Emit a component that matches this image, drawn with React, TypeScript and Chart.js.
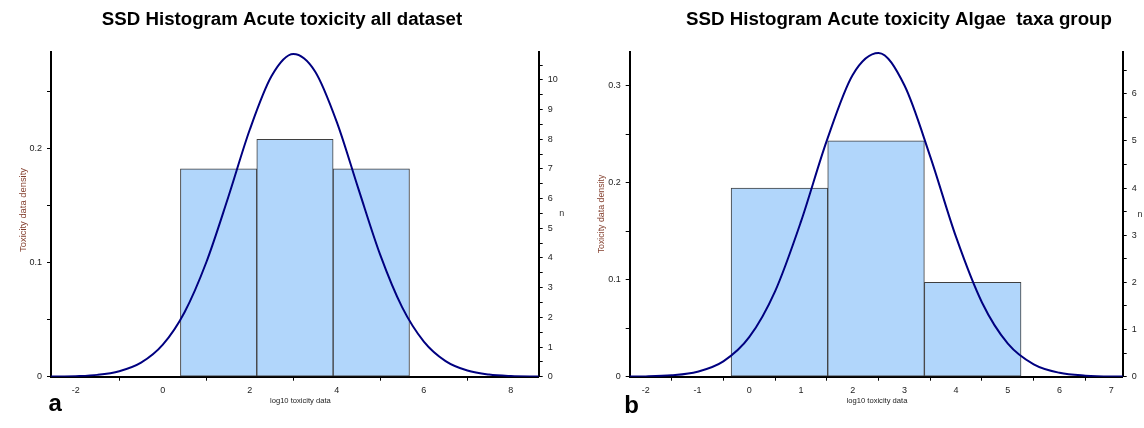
import React, { useEffect, useRef } from 'react';
import { Chart, registerables } from 'chart.js';

Chart.register(...registerables);

// ---------------- Panel a: all dataset ----------------
const aTitle = 'SSD Histogram Acute toxicity all dataset';
const aBinEdges = [0.405, 2.16, 3.915, 5.67];
const aCounts = [7, 8, 7];
const aCurveX = [-2.6, -2.5, -2, -1.5, -1, -0.5, 0, 0.5, 1, 1.5, 2, 2.5, 3, 3.5, 4, 4.5, 5, 5.5, 6, 6.5, 7, 7.5, 8, 8.5, 8.7];
const aCurveY = [0.0001, 0.0001, 0.0005, 0.0016, 0.0048, 0.0123, 0.0281, 0.0566, 0.1004, 0.157, 0.2168, 0.2637, 0.283, 0.2677, 0.2233, 0.1643, 0.1066, 0.061, 0.0308, 0.0137, 0.0054, 0.0019, 0.0006, 0.00015, 0.0001];
const aXRange = [-2.57, 8.64];
const aXTicks = [-2, -1, 0, 1, 2, 3, 4, 5, 6, 7, 8];
const aXLabels = ['-2', '', '0', '', '2', '', '4', '', '6', '', '8'];
const aDensityMax = 0.2848;
const aDensityTicks = [0, 0.05, 0.1, 0.15, 0.2, 0.25];
const aDensityLabels = ['0', '', '0.1', '', '0.2', ''];
const aCountMax = 10.94;
const aCountTicks = [0, 0.5, 1, 1.5, 2, 2.5, 3, 3.5, 4, 4.5, 5, 5.5, 6, 6.5, 7, 7.5, 8, 8.5, 9, 9.5, 10, 10.5];
const aCountLabels = ['0', '', '1', '', '2', '', '3', '', '4', '', '5', '', '6', '', '7', '', '8', '', '9', '', '10', ''];

// ---------------- Panel b: Algae taxa group ----------------
const bTitle = 'SSD Histogram Acute toxicity Algae  taxa group';
const bBinEdges = [-0.35, 1.518, 3.386, 5.255];
const bCounts = [4, 5, 2];
const bCurveX = [-2.5, -2, -1.5, -1, -0.5, 0, 0.5, 1, 1.5, 2, 2.5, 3, 3.5, 4, 4.5, 5, 5.5, 6, 6.5, 7, 7.5];
const bCurveY = [0.0001, 0.0003, 0.0014, 0.0051, 0.0158, 0.0407, 0.088, 0.1598, 0.2434, 0.3111, 0.3337, 0.3004, 0.2269, 0.1438, 0.0765, 0.0341, 0.0128, 0.004, 0.0011, 0.0002, 0.0001];
const bXRange = [-2.31, 7.22];
const bXTicks = [-2, -1.5, -1, -0.5, 0, 0.5, 1, 1.5, 2, 2.5, 3, 3.5, 4, 4.5, 5, 5.5, 6, 6.5, 7];
const bXLabels = ['-2', '', '-1', '', '0', '', '1', '', '2', '', '3', '', '4', '', '5', '', '6', '', '7'];
const bDensityMax = 0.335;
const bDensityTicks = [0, 0.05, 0.1, 0.15, 0.2, 0.25, 0.3];
const bDensityLabels = ['0', '', '0.1', '', '0.2', '', '0.3'];
const bCountMax = 6.89;
const bCountTicks = [0, 0.5, 1, 1.5, 2, 2.5, 3, 3.5, 4, 4.5, 5, 5.5, 6, 6.5];
const bCountLabels = ['0', '', '1', '', '2', '', '3', '', '4', '', '5', '', '6', ''];

const yTitleText = 'Toxicity data density';
const xTitleText = 'log10 toxicity data';
const nTitleText = 'n';

const FONT = '"Liberation Sans", Arial, sans-serif';

type TextItem = {
  text: string; x: number; y: number; font: string; color: string;
  align: CanvasTextAlign; baseline: CanvasTextBaseline; rotate?: number;
};

type PanelDef = {
  edges: number[]; counts: number[]; curveX: number[]; curveY: number[];
  xRange: number[]; xTicks: number[]; xLabels: string[];
  densityMax: number; densityTicks: number[]; densityLabels: string[];
  countMax: number; countTicks: number[]; countLabels: string[];
  padding: { left: number; right: number; top: number; bottom: number };
  leftW: number; rightW: number; texts: TextItem[];
};

const panelA: PanelDef = {
  edges: aBinEdges, counts: aCounts, curveX: aCurveX, curveY: aCurveY,
  xRange: aXRange, xTicks: aXTicks, xLabels: aXLabels,
  densityMax: aDensityMax, densityTicks: aDensityTicks, densityLabels: aDensityLabels,
  countMax: aCountMax, countTicks: aCountTicks, countLabels: aCountLabels,
  padding: { left: 11, right: 8.3, top: 52, bottom: 31.3 },
  leftW: 40, rightW: 25,
  texts: [
    { text: aTitle, x: 282, y: 24.5, font: `bold 18.7px ${FONT}`, color: '#000', align: 'center', baseline: 'alphabetic' },
    { text: 'a', x: 48.5, y: 410.7, font: `bold 24px ${FONT}`, color: '#000', align: 'left', baseline: 'alphabetic' },
    { text: yTitleText, x: 23.3, y: 210, font: `9.4px ${FONT}`, color: '#84402f', align: 'center', baseline: 'middle', rotate: -Math.PI / 2 },
    { text: nTitleText, x: 561.7, y: 214, font: `9px ${FONT}`, color: '#333', align: 'center', baseline: 'middle' },
    { text: xTitleText, x: 300.4, y: 400.7, font: `7.6px ${FONT}`, color: '#222', align: 'center', baseline: 'middle' },
  ],
};

const panelB: PanelDef = {
  edges: bBinEdges, counts: bCounts, curveX: bCurveX, curveY: bCurveY,
  xRange: bXRange, xTicks: bXTicks, xLabels: bXLabels,
  densityMax: bDensityMax, densityTicks: bDensityTicks, densityLabels: bDensityLabels,
  countMax: bCountMax, countTicks: bCountTicks, countLabels: bCountLabels,
  padding: { left: 17.7, right: 1.3, top: 51.7, bottom: 31.3 },
  leftW: 40, rightW: 20,
  texts: [
    { text: bTitle, x: 327, y: 24.5, font: `bold 18.7px ${FONT}`, color: '#000', align: 'center', baseline: 'alphabetic' },
    { text: 'b', x: 52.3, y: 413, font: `bold 24px ${FONT}`, color: '#000', align: 'left', baseline: 'alphabetic' },
    { text: yTitleText, x: 30, y: 214, font: `8.8px ${FONT}`, color: '#84402f', align: 'center', baseline: 'middle', rotate: -Math.PI / 2 },
    { text: nTitleText, x: 568, y: 214.3, font: `9px ${FONT}`, color: '#333', align: 'center', baseline: 'middle' },
    { text: xTitleText, x: 305, y: 400.7, font: `7.6px ${FONT}`, color: '#222', align: 'center', baseline: 'middle' },
  ],
};

const tickFont = { family: FONT, size: 9 };

function makeConfig(p: PanelDef): any {
  const centers = p.edges.slice(0, -1).map((e, i) => (e + p.edges[i + 1]) / 2);
  const textPlugin = {
    id: 'panelText',
    afterDraw(chart: any) {
      const ctx = chart.ctx as CanvasRenderingContext2D;
      for (const t of p.texts) {
        ctx.save();
        ctx.font = t.font;
        ctx.fillStyle = t.color;
        ctx.textAlign = t.align;
        ctx.textBaseline = t.baseline;
        ctx.translate(t.x, t.y);
        if (t.rotate) ctx.rotate(t.rotate);
        ctx.fillText(t.text, 0, 0);
        ctx.restore();
      }
    },
  };
  return {
    type: 'bar',
    data: {
      datasets: [
        {
          type: 'line',
          data: p.curveX.map((x, i) => ({ x, y: p.curveY[i] })),
          xAxisID: 'xb', yAxisID: 'y',
          borderColor: '#000080', borderWidth: 2, pointRadius: 0,
          cubicInterpolationMode: 'monotone', fill: false, order: 0,
        },
        {
          type: 'bar',
          data: centers.map((x, i) => ({ x, y: p.counts[i] })),
          xAxisID: 'xb', yAxisID: 'yn',
          backgroundColor: '#B1D6FB', borderColor: '#3f3f3f', borderWidth: 1,
          borderSkipped: false, barPercentage: 1, categoryPercentage: 1, order: 1,
        },
      ],
    },
    options: {
      responsive: false,
      animation: false,
      layout: { padding: p.padding },
      plugins: { legend: { display: false }, tooltip: { enabled: false }, title: { display: false } },
      scales: {
        x: {
          type: 'linear', position: 'bottom', min: p.xRange[0], max: p.xRange[1], offset: false,
          afterBuildTicks: (s: any) => { s.ticks = p.xTicks.map((v) => ({ value: v })); },
          afterFit: (s: any) => { s.height = 20; },
          grid: {
            offset: false, drawOnChartArea: false, drawTicks: true, tickLength: 4, tickWidth: 1,
            tickColor: (c: any) => (p.xLabels[c.index] === '' ? '#000' : 'rgba(0,0,0,0)'),
          },
          border: { display: true, color: '#000', width: 2 },
          ticks: {
            autoSkip: false, maxRotation: 0, padding: 4, color: '#222', font: tickFont,
            callback: (_v: any, i: number) => p.xLabels[i],
          },
        },
        xb: {
          type: 'linear', position: 'bottom', display: false, min: p.xRange[0], max: p.xRange[1], offset: false,
          grid: { offset: false },
          afterBuildTicks: (s: any) => { s.ticks = p.edges.map((v) => ({ value: v })); },
        },
        y: {
          type: 'linear', position: 'left', min: 0, max: p.densityMax,
          afterBuildTicks: (s: any) => { s.ticks = p.densityTicks.map((v) => ({ value: v })); },
          afterFit: (s: any) => { s.width = p.leftW; },
          grid: { drawOnChartArea: false, drawTicks: true, tickLength: 4, tickWidth: 1, tickColor: '#000' },
          border: { display: true, color: '#000', width: 2 },
          ticks: {
            autoSkip: false, padding: 5, color: '#222', font: tickFont,
            callback: (_v: any, i: number) => p.densityLabels[i],
          },
        },
        yn: {
          type: 'linear', position: 'right', min: 0, max: p.countMax,
          afterBuildTicks: (s: any) => { s.ticks = p.countTicks.map((v) => ({ value: v })); },
          afterFit: (s: any) => { s.width = p.rightW; },
          grid: { drawOnChartArea: false, drawTicks: true, tickLength: 4, tickWidth: 1, tickColor: '#000' },
          border: { display: true, color: '#000', width: 2 },
          ticks: {
            autoSkip: false, padding: 5, color: '#222', font: tickFont,
            callback: (_v: any, i: number) => p.countLabels[i],
          },
        },
      },
    },
    plugins: [textPlugin],
  };
}

function Panel({ def, left }: { def: PanelDef; left: number }) {
  const ref = useRef<HTMLCanvasElement | null>(null);
  useEffect(() => {
    if (!ref.current) return;
    const chart = new Chart(ref.current, makeConfig(def));
    return () => chart.destroy();
  }, [def]);
  return (
    <canvas
      ref={ref}
      width={572}
      height={428}
      style={{ position: 'absolute', left, top: 0, width: 572, height: 428 }}
    />
  );
}

export default function App() {
  return (
    <div style={{ position: 'absolute', left: 0, top: 0, width: 1144, height: 428, background: '#fff', overflow: 'hidden' }}>
      <Panel def={panelA} left={0} />
      <Panel def={panelB} left={572} />
    </div>
  );
}
